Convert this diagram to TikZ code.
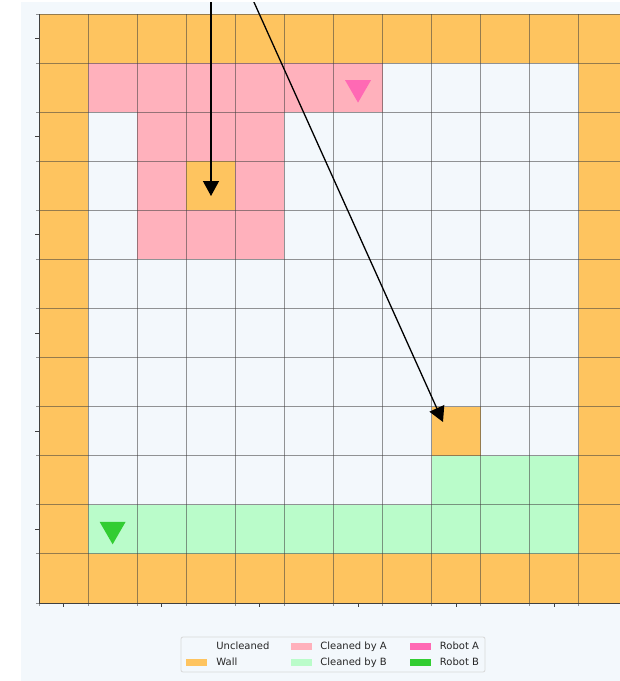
\documentclass[tikz,border=0pt]{standalone}
\usepackage{fontspec}
\setmainfont{DejaVu Sans}
\usetikzlibrary{shapes.geometric, arrows.meta, positioning}

\definecolor{panelbg}{RGB}{243,248,252}
\definecolor{wallcol}{RGB}{254,196,95}
\definecolor{cleanA}{RGB}{255,177,188}
\definecolor{cleanB}{RGB}{186,252,202}
\definecolor{robotA}{RGB}{255,105,180}
\definecolor{robotB}{RGB}{50,205,50}

\newcommand{\tile}[3]{\fill[#1] ({39+#2*49.08},{14+#3*49.08}) rectangle ++(49.08,49.08);}

\begin{document}
\begin{tikzpicture}[
    x=1pt, y=-1pt,
    wall/.style={fill=wallcol},
    cellA/.style={fill=cleanA},
    cellB/.style={fill=cleanB},
    gridline/.style={draw=black!75, line width=0.8pt, opacity=0.55},
    spine/.style={draw=black!75, line width=0.9pt},
    robot/.style={regular polygon, regular polygon sides=3, shape border rotate=180, minimum size=30pt, inner sep=0pt},
    pointer/.style={line width=1.3pt, -{Triangle[width=16pt, length=15pt]}},
    legbox/.style={draw=black!15, rounded corners=2pt, fill=panelbg, minimum width=304pt, minimum height=35pt, line width=0.8pt},
    legpatch/.style={minimum width=21pt, minimum height=7pt, inner sep=0pt},
    legtext/.style={inner sep=0pt, anchor=west, text height=7.5pt, text depth=2pt, font=\fontsize{10}{12}\selectfont, text=black!85}
]
\def\cs{49.08}
\useasboundingbox (0,0) rectangle (620,681);
\fill[white] (0,0) rectangle (620,681);
\fill[panelbg] (21,2) rectangle (620,681);

\begin{scope}
\clip (21,2) rectangle (620,681);
\foreach \c in {0,...,11} {\tile{wall}{\c}{0} \tile{wall}{\c}{11}}
\foreach \r in {1,...,10} {\tile{wall}{0}{\r} \tile{wall}{11}{\r}}
\foreach \c/\r in {3/3, 8/8} {\tile{wall}{\c}{\r}}
\foreach \c/\r in {1/1,2/1,3/1,4/1,5/1,6/1,2/2,3/2,4/2,2/3,4/3,2/4,3/4,4/4} {\tile{cellA}{\c}{\r}}
\foreach \c/\r in {8/9,9/9,10/9,1/10,2/10,3/10,4/10,5/10,6/10,7/10,8/10,9/10,10/10} {\tile{cellB}{\c}{\r}}

\foreach \i in {0,...,12} {
    \draw[gridline] ({39+\i*\cs},14) -- ({39+\i*\cs},606);
    \draw[gridline] (36,{14+\i*\cs}) -- ({39+12*\cs},{14+\i*\cs});
}
\draw[spine] (39,14) -- (39,{14+12*\cs}) -- ({39+12*\cs},{14+12*\cs});
\foreach \k in {0,...,5} {
    \draw[spine] (35,{14+(2*\k+0.5)*\cs}) -- (39,{14+(2*\k+0.5)*\cs});
    \draw[spine] ({39+(2*\k+0.5)*\cs},603) -- ({39+(2*\k+0.5)*\cs},607);
}

\node (robA) [robot, fill=robotA] at ({39+6.5*\cs},{14+1.5*\cs}) {};
\node (robB) [robot, fill=robotB] at ({39+1.5*\cs},{14+10.5*\cs}) {};

\coordinate (srcA) at (211,0);
\coordinate (hitA) at (211,196);
\coordinate (srcB) at (253,0);
\coordinate (hitB) at (443,422);
\draw[pointer] (srcA) -- (hitA);
\draw[pointer] (srcB) -- (hitB);
\end{scope}

\node (legend) [legbox] at (333,654.5) {};
\node (pUnc) [legpatch, fill=panelbg] at (196.5,646.5) {};
\node (pWall) [legpatch, fill=wallcol] at (196.5,662.5) {};
\node (pA) [legpatch, fill=cleanA] at (301.5,646.5) {};
\node (pB) [legpatch, fill=cleanB] at (301.5,662.5) {};
\node (pRA) [legpatch, fill=robotA] at (420,646.5) {};
\node (pRB) [legpatch, fill=robotB] at (420,662.5) {};
\node (tUnc) [legtext, right=9pt of pUnc] {Uncleaned};
\node (tWall) [legtext, right=9pt of pWall] {Wall};
\node (tA) [legtext, right=8pt of pA] {Cleaned by A};
\node (tB) [legtext, right=8pt of pB] {Cleaned by B};
\node (tRA) [legtext, right=9pt of pRA] {Robot A};
\node (tRB) [legtext, right=9pt of pRB] {Robot B};
\end{tikzpicture}
\end{document}
